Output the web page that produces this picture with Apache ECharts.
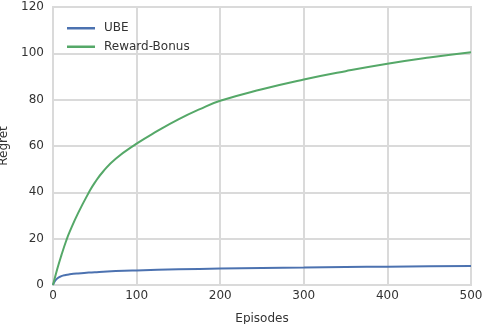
<!DOCTYPE html>
<html>
<head>
<meta charset="utf-8">
<script src="https://cdn.jsdelivr.net/npm/echarts@6/dist/echarts.min.js"></script>
<style>
html,body{margin:0;padding:0;background:#fff;}
#chart{width:482px;height:324px;}
</style>
</head>
<body>
<div id="chart"></div>
<script>
// Episodes at which values were read
const ubeEpisodes = [0, 2, 5, 10, 15, 20, 30, 40, 50, 75, 100, 150, 200, 250, 300, 350, 400, 450, 500];
const ubeRegret   = [0, 1.5, 2.8, 3.8, 4.3, 4.6, 5.0, 5.3, 5.55, 6.0, 6.3, 6.75, 7.1, 7.35, 7.55, 7.75, 7.9, 8.05, 8.2];

const bonusEpisodes = [0, 5, 10, 16, 20, 30, 43, 50, 60, 75, 100, 125, 150, 175, 200, 250, 300, 350, 400, 450, 500];
const bonusRegret   = [0, 6.8, 12.8, 19.3, 23, 31, 40, 44.2, 49, 54.5, 61, 66.5, 71.5, 75.8, 79.5, 84.5, 88.7, 92.3, 95.5, 98.2, 100.5];

const seriesNames = ['UBE', 'Reward-Bonus'];
const xTicks = {min: 0, max: 500, interval: 100};
const yTicks = {min: 0, max: 120, interval: 20};

function pairs(xs, ys) { return xs.map((x, i) => [x, ys[i]]); }

const chart = echarts.init(document.getElementById('chart'), null, {renderer: 'canvas'});
const txt = '#333333';
const font = 'DejaVu Sans';
const gridCol = '#dadada';
chart.setOption({
  animation: false,
  backgroundColor: '#ffffff',
  grid: {left: 53, right: 11, top: 7, bottom: 39, containLabel: false, outerBoundsMode: 'none',
         show: true, borderColor: gridCol, borderWidth: 2},
  legend: {
    data: seriesNames,
    left: 62, top: 16, orient: 'vertical',
    icon: 'rect', itemWidth: 28, itemHeight: 2.5, itemGap: 4,
    textStyle: {color: txt, fontFamily: font, fontSize: 12, lineHeight: 14.5, padding: [0, 0, 0, 4]}
  },
  xAxis: {
    type: 'value', min: xTicks.min, max: xTicks.max, interval: xTicks.interval,
    name: 'Episodes', nameLocation: 'middle', nameGap: 28,
    nameTextStyle: {color: txt, fontFamily: font, fontSize: 12},
    axisLine: {show: false}, axisTick: {show: false},
    axisLabel: {color: txt, fontFamily: font, fontSize: 12, margin: 5},
    splitLine: {show: true, lineStyle: {color: gridCol, width: 2, type: 'solid', opacity: 1}}
  },
  yAxis: {
    type: 'value', min: yTicks.min, max: yTicks.max, interval: yTicks.interval,
    name: 'Regret', nameLocation: 'middle', nameGap: 40,
    nameTextStyle: {color: txt, fontFamily: font, fontSize: 12},
    axisLine: {show: false}, axisTick: {show: false},
    axisLabel: {color: txt, fontFamily: font, fontSize: 12, margin: 9},
    splitLine: {show: true, lineStyle: {color: gridCol, width: 2, type: 'solid', opacity: 1}}
  },
  series: [
    {name: seriesNames[0], type: 'line', data: pairs(ubeEpisodes, ubeRegret), smooth: 0.5,
     symbol: 'none', lineStyle: {color: '#4c72b0', width: 2}, itemStyle: {color: '#4c72b0'}},
    {name: seriesNames[1], type: 'line', data: pairs(bonusEpisodes, bonusRegret), smooth: 0.5,
     symbol: 'none', lineStyle: {color: '#55a868', width: 2}, itemStyle: {color: '#55a868'}}
  ]
});
</script>
</body>
</html>
